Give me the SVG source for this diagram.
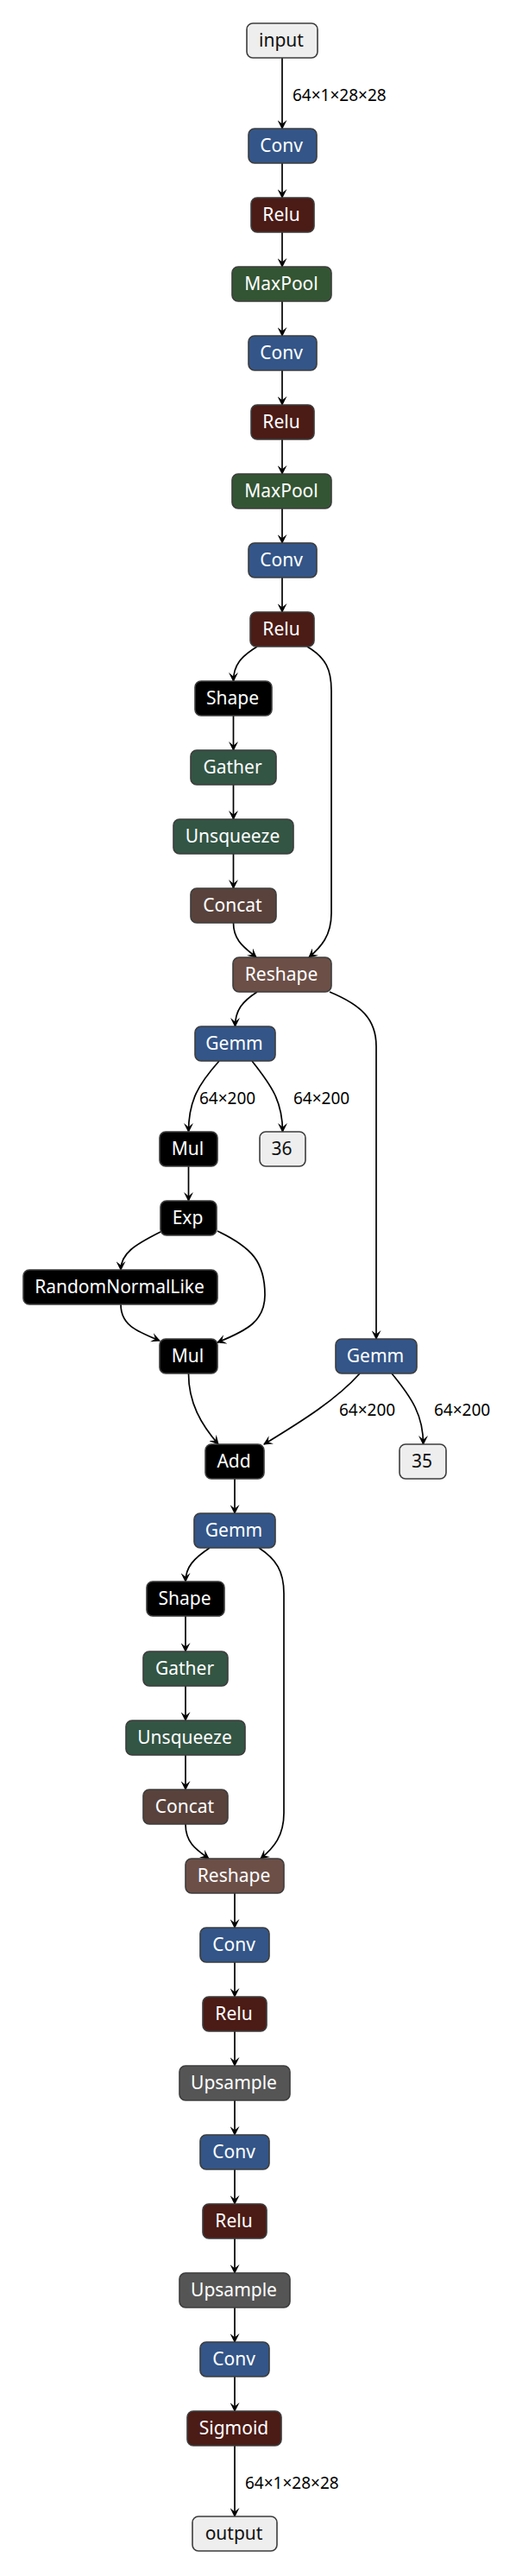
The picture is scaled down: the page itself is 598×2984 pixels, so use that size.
<svg xmlns="http://www.w3.org/2000/svg" width="598" height="2984" viewBox="0 0 598 2984">
<style>
.n rect{stroke:#3c3c3c;stroke-width:1.6}
.n text{font-family:"Noto Sans","Open Sans","DejaVu Sans",sans-serif;font-size:21px;fill:#fff;text-anchor:middle}
.io rect{fill:#eeeeee}
.io text{fill:#111}
.layer rect{fill:#335588}
.act rect{fill:#4b1b16}
.pool rect{fill:#335533}
.tr rect{fill:#335544}
.tensor rect{fill:#59423b}
.shape rect{fill:#6c4f47}
.data rect{fill:#555555}
.blk rect{fill:#000000}
.e path{fill:none;stroke:#000;stroke-width:1.7;marker-end:url(#ah)}
.lbl{font-family:"Noto Sans","Open Sans","DejaVu Sans",sans-serif;font-size:19px;fill:#000}
</style>
<defs>
<marker id="ah" viewBox="0 0 10 10" refX="9" refY="5" markerWidth="11" markerHeight="11" markerUnits="userSpaceOnUse" orient="auto">
<path d="M0,0 L10,5 L0,10 L4,5 z" fill="#000"/>
</marker>
</defs>
<rect width="598" height="2984" fill="#fff"/>
<g id="edges" class="e">
<path d="M327,67 V149"/>
<path d="M327,189 V229"/>
<path d="M327,269 V309"/>
<path d="M327,349 V389"/>
<path d="M327,429 V469"/>
<path d="M327,509 V549"/>
<path d="M327,589 V629"/>
<path d="M327,669 V709"/>
<path d="M298,749 C280,760 270.5,770 270.5,789"/>
<path d="M356,749 C378,762 384,776 384,800 V1058 C384,1084 372,1097 358,1109"/>
<path d="M270.5,829 V869"/>
<path d="M270.5,909 V949"/>
<path d="M270.5,989 V1029"/>
<path d="M270.5,1069 C270.5,1090 284,1098 297,1109"/>
<path d="M298,1149 C281,1160 272.5,1170 272.5,1189"/>
<path d="M382,1149 C418,1164 436,1180 436,1212 V1551"/>
<path d="M254,1229 C230,1256 218.5,1275 218.5,1311"/>
<path d="M292,1229 C315,1258 327.5,1276 327.5,1311"/>
<path d="M218.5,1351 V1391"/>
<path d="M186,1427 C156,1442 140,1452 140,1471"/>
<path d="M252,1426 C292,1445 307,1462 307,1500 C307,1530 287,1541 252,1555"/>
<path d="M140,1511 C140,1535 158,1542 185,1553"/>
<path d="M218.5,1591 C218.5,1625 233,1650 253,1673"/>
<path d="M417,1591 C390,1621 352,1645 306,1673"/>
<path d="M454,1591 C478,1620 490.5,1640 490.5,1673"/>
<path d="M272,1713 V1753"/>
<path d="M243,1793 C225,1805 215,1815 215,1832"/>
<path d="M300,1793 C320,1806 329,1820 329,1846 V2100 C329,2126 318,2140 302,2153"/>
<path d="M215,1872 V1913"/>
<path d="M215,1953 V1993"/>
<path d="M215,2033 V2073"/>
<path d="M215,2113 C215,2135 228,2143 242,2153"/>
<path d="M272,2193 V2233"/>
<path d="M272,2273 V2313"/>
<path d="M272,2353 V2393"/>
<path d="M272,2433 V2473"/>
<path d="M272,2513 V2553"/>
<path d="M272,2593 V2633"/>
<path d="M272,2673 V2713"/>
<path d="M272,2753 V2793"/>
<path d="M272,2833 V2915"/>
</g>
<g id="edge-labels">
<text class="lbl" x="339" y="117">64×1×28×28</text>
<text class="lbl" x="231" y="1279">64×200</text>
<text class="lbl" x="340" y="1279">64×200</text>
<text class="lbl" x="393" y="1640">64×200</text>
<text class="lbl" x="503" y="1640">64×200</text>
<text class="lbl" x="284" y="2883">64×1×28×28</text>
</g>
<g id="input" class="n io"><rect x="286" y="27" width="82" height="40" rx="7"/><text x="326" y="54">input</text></g>
<g id="conv1" class="n layer"><rect x="288" y="149" width="79" height="40" rx="7"/><text x="326" y="176">Conv</text></g>
<g id="relu1" class="n act"><rect x="291" y="229" width="73" height="40" rx="7"/><text x="326" y="256">Relu</text></g>
<g id="maxpool1" class="n pool"><rect x="269" y="309" width="115" height="40" rx="7"/><text x="326" y="336">MaxPool</text></g>
<g id="conv2" class="n layer"><rect x="288" y="389" width="79" height="40" rx="7"/><text x="326" y="416">Conv</text></g>
<g id="relu2" class="n act"><rect x="291" y="469" width="73" height="40" rx="7"/><text x="326" y="496">Relu</text></g>
<g id="maxpool2" class="n pool"><rect x="269" y="549" width="115" height="40" rx="7"/><text x="326" y="576">MaxPool</text></g>
<g id="conv3" class="n layer"><rect x="288" y="629" width="79" height="40" rx="7"/><text x="326" y="656">Conv</text></g>
<g id="relu3" class="n act"><rect x="290" y="709" width="74" height="40" rx="7"/><text x="326" y="736">Relu</text></g>
<g id="shape1" class="n blk"><rect x="226" y="789" width="89" height="40" rx="7"/><text x="269.5" y="816">Shape</text></g>
<g id="gather1" class="n tr"><rect x="221" y="869" width="99" height="40" rx="7"/><text x="269.5" y="896">Gather</text></g>
<g id="unsqueeze1" class="n tr"><rect x="201" y="949" width="139" height="40" rx="7"/><text x="269.5" y="976">Unsqueeze</text></g>
<g id="concat1" class="n tensor"><rect x="221" y="1029" width="99" height="40" rx="7"/><text x="269.5" y="1056">Concat</text></g>
<g id="reshape1" class="n shape"><rect x="270" y="1109" width="114" height="40" rx="7"/><text x="326" y="1136">Reshape</text></g>
<g id="gemm1" class="n layer"><rect x="226" y="1189" width="93" height="40" rx="7"/><text x="271.5" y="1216">Gemm</text></g>
<g id="mul1" class="n blk"><rect x="185" y="1311" width="67" height="40" rx="7"/><text x="217.5" y="1338">Mul</text></g>
<g id="t36" class="n io"><rect x="301" y="1311" width="53" height="40" rx="7"/><text x="326.5" y="1338">36</text></g>
<g id="exp" class="n blk"><rect x="186" y="1391" width="65" height="40" rx="7"/><text x="217.5" y="1418">Exp</text></g>
<g id="randomnormallike" class="n blk"><rect x="27" y="1471" width="225" height="40" rx="7"/><text x="138.5" y="1498">RandomNormalLike</text></g>
<g id="mul2" class="n blk"><rect x="185" y="1551" width="67" height="40" rx="7"/><text x="217.5" y="1578">Mul</text></g>
<g id="gemm2" class="n layer"><rect x="389" y="1551" width="94" height="40" rx="7"/><text x="435" y="1578">Gemm</text></g>
<g id="add" class="n blk"><rect x="238" y="1673" width="68" height="40" rx="7"/><text x="271" y="1700">Add</text></g>
<g id="t35" class="n io"><rect x="463" y="1673" width="54" height="40" rx="7"/><text x="489" y="1700">35</text></g>
<g id="gemm3" class="n layer"><rect x="225" y="1753" width="94" height="40" rx="7"/><text x="271" y="1780">Gemm</text></g>
<g id="shape2" class="n blk"><rect x="170" y="1832" width="90" height="40" rx="7"/><text x="214" y="1859">Shape</text></g>
<g id="gather2" class="n tr"><rect x="166" y="1913" width="98" height="40" rx="7"/><text x="214" y="1940">Gather</text></g>
<g id="unsqueeze2" class="n tr"><rect x="146" y="1993" width="138" height="40" rx="7"/><text x="214" y="2020">Unsqueeze</text></g>
<g id="concat2" class="n tensor"><rect x="166" y="2073" width="98" height="40" rx="7"/><text x="214" y="2100">Concat</text></g>
<g id="reshape2" class="n shape"><rect x="215" y="2153" width="114" height="40" rx="7"/><text x="271" y="2180">Reshape</text></g>
<g id="conv4" class="n layer"><rect x="232" y="2233" width="80" height="40" rx="7"/><text x="271" y="2260">Conv</text></g>
<g id="relu4" class="n act"><rect x="235" y="2313" width="74" height="40" rx="7"/><text x="271" y="2340">Relu</text></g>
<g id="upsample1" class="n data"><rect x="208" y="2393" width="128" height="40" rx="7"/><text x="271" y="2420">Upsample</text></g>
<g id="conv5" class="n layer"><rect x="232" y="2473" width="80" height="40" rx="7"/><text x="271" y="2500">Conv</text></g>
<g id="relu5" class="n act"><rect x="235" y="2553" width="74" height="40" rx="7"/><text x="271" y="2580">Relu</text></g>
<g id="upsample2" class="n data"><rect x="208" y="2633" width="128" height="40" rx="7"/><text x="271" y="2660">Upsample</text></g>
<g id="conv6" class="n layer"><rect x="232" y="2713" width="80" height="40" rx="7"/><text x="271" y="2740">Conv</text></g>
<g id="sigmoid" class="n act"><rect x="217" y="2793" width="109" height="40" rx="7"/><text x="271" y="2820">Sigmoid</text></g>
<g id="output" class="n io"><rect x="223" y="2915" width="98" height="40" rx="7"/><text x="271" y="2942">output</text></g>
</svg>
